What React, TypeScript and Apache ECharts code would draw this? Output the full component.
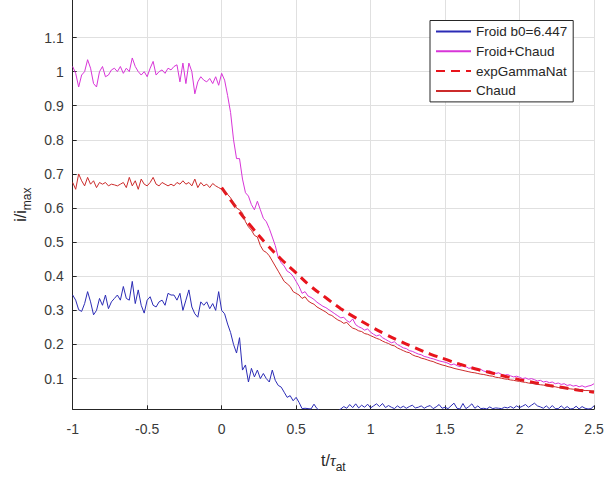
import React, { useEffect, useRef } from "react";
import * as echarts from "echarts";

// sampling grid of the measured traces
const T0 = -1;
const DT = 0.02;

// Froid b0=6.447 (blue)
const FROID: number[] = [
  0.345, 0.33, 0.302, 0.297, 0.32, 0.355, 0.325, 0.287, 0.3, 0.335,
  0.315, 0.345, 0.305, 0.325, 0.335, 0.345, 0.33, 0.37, 0.335, 0.33,
  0.385, 0.32, 0.36, 0.315, 0.292, 0.33, 0.34, 0.315, 0.31, 0.325,
  0.33, 0.315, 0.35, 0.345, 0.345, 0.33, 0.35, 0.3, 0.33, 0.36,
  0.31, 0.29, 0.28, 0.325, 0.315, 0.325, 0.305, 0.32, 0.3, 0.355,
  0.3,
  0.29, 0.26, 0.235, 0.2, 0.175, 0.22, 0.125, 0.14, 0.09, 0.13,
  0.105, 0.125, 0.1, 0.115, 0.1, 0.09, 0.125, 0.095, 0.08, 0.075,
  0.06, 0.045, 0.05, 0.035, 0.045, 0.03, 0.012, 0.013, 0.012, 0.011,
  0.025, 0.012, 0.005, 0.005, 0.005, 0.005, 0.005, 0.005, 0.005, 0.011,
  0.018, 0.013, 0.024, 0.015, 0.026, 0.014, 0.022, 0.016, 0.025, 0.014,
  0.02, 0.026, 0.018, 0.027, 0.015, 0.021, 0.016, 0.012, 0.02, 0.014,
  0.019, 0.013, 0.018, 0.022, 0.014, 0.016, 0.02, 0.013, 0.018, 0.021,
  0.012, 0.017, 0.024, 0.013, 0.016, 0.012, 0.02, 0.028, 0.013, 0.011,
  0.027, 0.012, 0.018, 0.026, 0.013, 0.02, 0.012, 0.013, 0.011, 0.017,
  0.012, 0.014, 0.013, 0.012, 0.016, 0.014, 0.018, 0.013, 0.02, 0.015,
  0.019, 0.024, 0.016, 0.022, 0.028, 0.02, 0.017, 0.013, 0.02, 0.012,
  0.021, 0.012, 0.012, 0.02, 0.012, 0.018, 0.011, 0.012, 0.019, 0.011,
  0.018, 0.013, 0.011, 0.012, 0.02,
];

// Froid+Chaud (magenta)
const FROID_CHAUD: number[] = [
  1.015, 0.995, 0.955, 0.99, 1.0, 1.035, 1.01, 0.965, 0.955, 1.0,
  1.015, 0.985, 0.99, 1.005, 1.01, 1.0, 1.015, 0.995, 1.01, 1.0,
  1.04, 1.015, 1.0, 0.99, 1.0, 0.985, 1.01, 1.03, 0.99, 1.0,
  1.005, 0.995, 1.01, 1.005, 1.015, 1.02, 0.97, 1.025, 0.965, 1.025,
  1.0, 0.935, 0.97, 0.985, 0.975, 0.97, 0.98, 0.965, 0.985, 0.96,
  0.995,
  0.975, 0.93, 0.88, 0.8, 0.745, 0.745, 0.685, 0.645, 0.635, 0.61,
  0.595, 0.62, 0.595, 0.57, 0.56, 0.54, 0.515, 0.49, 0.455, 0.44,
  0.43, 0.415, 0.41, 0.4, 0.385, 0.37, 0.35, 0.355, 0.342, 0.338,
  0.332, 0.324, 0.318, 0.312, 0.308, 0.302, 0.296, 0.29, 0.284, 0.278,
  0.28, 0.27, 0.265, 0.275, 0.258, 0.252, 0.248, 0.242, 0.246, 0.236,
  0.23, 0.225, 0.228, 0.22, 0.215, 0.21, 0.205, 0.208, 0.2, 0.195,
  0.19, 0.188, 0.182, 0.18, 0.176, 0.172, 0.17, 0.165, 0.163, 0.16,
  0.158, 0.155, 0.152, 0.15, 0.148, 0.145, 0.14, 0.143, 0.138, 0.135,
  0.14, 0.135, 0.13, 0.132, 0.128, 0.125, 0.127, 0.122, 0.12, 0.123,
  0.118, 0.115, 0.117, 0.112, 0.11, 0.112, 0.108, 0.105, 0.107, 0.104,
  0.1, 0.102, 0.098, 0.1, 0.097, 0.093, 0.095, 0.09, 0.092, 0.088,
  0.09, 0.085, 0.087, 0.083, 0.085, 0.08, 0.082, 0.078, 0.08, 0.076,
  0.079, 0.075, 0.078, 0.08, 0.085,
];

// Chaud (red)
const CHAUD: number[] = [
  0.675, 0.655, 0.7, 0.68, 0.665, 0.69, 0.67, 0.68, 0.66, 0.675,
  0.67, 0.675, 0.665, 0.67, 0.668, 0.665, 0.67, 0.675, 0.66, 0.69,
  0.665, 0.68, 0.655, 0.685, 0.67, 0.665, 0.675, 0.69, 0.67, 0.665,
  0.675, 0.67, 0.665, 0.67, 0.665, 0.675, 0.67, 0.68, 0.67, 0.675,
  0.665, 0.685, 0.66, 0.675, 0.665, 0.67, 0.66, 0.672, 0.665, 0.66,
  0.655,
  0.65, 0.64, 0.63, 0.615, 0.6, 0.595, 0.585, 0.56, 0.545, 0.535,
  0.52, 0.515, 0.49, 0.475, 0.47, 0.46, 0.445, 0.43, 0.415, 0.4,
  0.385, 0.378, 0.37, 0.355, 0.35, 0.345, 0.335, 0.34, 0.328, 0.322,
  0.318, 0.31, 0.305, 0.3, 0.295, 0.288, 0.285, 0.278, 0.272, 0.268,
  0.262, 0.265, 0.255, 0.248, 0.245, 0.24, 0.238, 0.232, 0.23, 0.226,
  0.222, 0.218, 0.215, 0.21, 0.206, 0.203, 0.198, 0.196, 0.19, 0.186,
  0.182, 0.178, 0.176, 0.17, 0.166, 0.164, 0.16, 0.158, 0.155, 0.152,
  0.15, 0.146, 0.143, 0.14, 0.138, 0.135, 0.133, 0.13, 0.128, 0.126,
  0.124, 0.122, 0.12, 0.118, 0.117, 0.115, 0.113, 0.112, 0.11, 0.108,
  0.107, 0.104, 0.103, 0.101, 0.099, 0.098, 0.096, 0.095, 0.093, 0.092,
  0.09, 0.089, 0.087, 0.086, 0.085, 0.083, 0.082, 0.081, 0.079, 0.078,
  0.077, 0.076, 0.074, 0.073, 0.072, 0.071, 0.07, 0.069, 0.068, 0.067,
  0.066, 0.065, 0.065, 0.064, 0.064,
];

// expGammaNat fit (dashed), sampled every 0.1 from t = 0
const FIT_T0 = 0;
const FIT_DT = 0.1;
const EXP_GAMMA_NAT: number[] = [
  0.66, 0.6, 0.545, 0.495, 0.45, 0.41, 0.37, 0.337, 0.305, 0.278,
  0.253, 0.23, 0.209, 0.19, 0.172, 0.157, 0.142, 0.129, 0.118, 0.107,
  0.097, 0.088, 0.08, 0.073, 0.066, 0.06,
];

const Y_TICKS = [0.1, 0.2, 0.3, 0.4, 0.5, 0.6, 0.7, 0.8, 0.9, 1.0, 1.1];

const FONT = "'Liberation Sans', Arial, Helvetica, sans-serif";
const AXIS_COLOR = "#262626";
const LABEL_COLOR = "#3a3a3a";
const GRID_COLOR = "#e0e0e0";

function toPairs(vals: number[], t0: number, dt: number) {
  return vals.map((v, i) => [Math.round((t0 + i * dt) * 1000) / 1000, v]);
}

export default function App() {
  const ref = useRef<HTMLDivElement>(null);
  useEffect(() => {
    if (!ref.current) return;
    const chart = echarts.init(ref.current, undefined, { renderer: "svg" });
    chart.setOption({
      animation: false,
      backgroundColor: "#ffffff",
      grid: {
        left: 72.7,
        right: 13,
        top: 0,
        bottom: 68.7,
        containLabel: false,
        outerBoundsMode: "none",
      },
      legend: {
        orient: "vertical",
        left: 430,
        top: 20.5,
        padding: [4, 6, 4, 5],
        itemWidth: 35,
        itemHeight: 14,
        itemGap: 5.8,
        borderColor: AXIS_COLOR,
        borderWidth: 1,
        backgroundColor: "#ffffff",
        itemStyle: { opacity: 0 },
        textStyle: { fontSize: 13.5, color: AXIS_COLOR, fontFamily: FONT },
        data: ["Froid b0=6.447", "Froid+Chaud", "expGammaNat", "Chaud"],
      },
      xAxis: {
        type: "value",
        min: -1,
        max: 2.5,
        interval: 0.5,
        name: "{n|t/}{g|τ}{s|at}",
        nameLocation: "middle",
        nameGap: 42,
        nameTextStyle: {
          rich: {
            n: { fontSize: 16, fontFamily: FONT, color: AXIS_COLOR, lineHeight: 18 },
            g: {
              fontSize: 16,
              fontFamily: "'Liberation Serif', 'DejaVu Serif', serif",
              fontStyle: "italic",
              color: AXIS_COLOR,
              lineHeight: 18,
            },
            s: { fontSize: 12, fontFamily: FONT, color: AXIS_COLOR, lineHeight: 12, padding: [14, 0, 0, 0] },
          },
        },
        axisLine: { show: true, onZero: false, lineStyle: { color: AXIS_COLOR, width: 1 } },
        axisTick: { show: true, inside: true, length: 4, lineStyle: { color: AXIS_COLOR } },
        axisLabel: { fontSize: 14, color: LABEL_COLOR, fontFamily: FONT, margin: 13 },
        splitLine: { show: true, lineStyle: { color: GRID_COLOR, width: 1 } },
      },
      yAxis: {
        type: "value",
        min: 0.01,
        max: 1.21,
        name: "{n|i/i}{s|max}",
        nameLocation: "middle",
        nameGap: 27,
        nameTextStyle: {
          rich: {
            n: { fontSize: 16, fontFamily: FONT, color: AXIS_COLOR, lineHeight: 18 },
            s: { fontSize: 12, fontFamily: FONT, color: AXIS_COLOR, lineHeight: 12, padding: [14, 0, 0, 0] },
          },
        },
        axisLine: { show: true, onZero: false, lineStyle: { color: AXIS_COLOR, width: 1 } },
        axisTick: { show: true, inside: true, length: 4, lineStyle: { color: AXIS_COLOR }, customValues: Y_TICKS },
        axisLabel: {
          fontSize: 14,
          color: LABEL_COLOR,
          fontFamily: FONT,
          margin: 9,
          customValues: Y_TICKS,
          formatter: (v: number) => String(Math.round(v * 10) / 10),
        },
        splitLine: { show: true, lineStyle: { color: GRID_COLOR, width: 1 } },
      },
      series: [
        {
          name: "Froid b0=6.447",
          type: "line",
          data: toPairs(FROID, T0, DT),
          symbol: "none",
          clip: true,
          lineStyle: { color: "#2b2bb5", width: 1 },
          itemStyle: { color: "#2b2bb5" },
        },
        {
          name: "Froid+Chaud",
          type: "line",
          data: toPairs(FROID_CHAUD, T0, DT),
          symbol: "none",
          clip: true,
          lineStyle: { color: "#d835d8", width: 1 },
          itemStyle: { color: "#d835d8" },
        },
        {
          name: "expGammaNat",
          type: "line",
          data: toPairs(EXP_GAMMA_NAT, FIT_T0, FIT_DT),
          symbol: "none",
          clip: true,
          smooth: true,
          lineStyle: { color: "#e8141c", width: 3, type: [9, 6] },
          itemStyle: { color: "#e8141c" },
        },
        {
          name: "Chaud",
          type: "line",
          data: toPairs(CHAUD, T0, DT),
          symbol: "none",
          clip: true,
          lineStyle: { color: "#cc2b2b", width: 1 },
          itemStyle: { color: "#cc2b2b" },
        },
      ],
    });
    return () => chart.dispose();
  }, []);
  return (
    <div
      ref={ref}
      style={{ position: "fixed", left: 0, top: 0, width: 607, height: 478, background: "#fff" }}
    />
  );
}
